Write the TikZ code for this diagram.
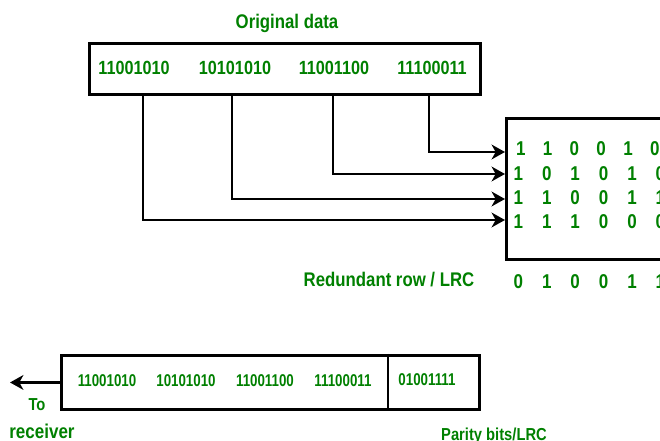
\documentclass[tikz,border=0pt]{standalone}
\usepackage{fontspec}
\setmainfont[FakeStretch=0.85]{Liberation Sans}
\newfontfamily\narrowface[FakeStretch=0.78]{Liberation Sans}
\usetikzlibrary{arrows.meta, positioning}
\definecolor{bitgreen}{RGB}{0,128,0}

\begin{document}
\begin{tikzpicture}[x=0.75pt, y=-0.75pt, >={Stealth[length=10pt, width=11pt, inset=3pt]}]
    \tikzstyle{frame} = [draw, line width=2.2pt, inner sep=0pt]
    \tikzstyle{link} = [->, line width=2.2pt]
    \tikzstyle{word} = [text=bitgreen, font=\fontsize{14.3}{16}\selectfont\bfseries, inner sep=0pt]
    \tikzstyle{smallword} = [word, font=\narrowface\fontsize{12.8}{14}\selectfont\bfseries]
    \tikzstyle{cell} = [word, font=\fontsize{15}{17}\selectfont\bfseries]
    \tikzstyle{note} = [word, font=\fontsize{14.8}{17}\selectfont\bfseries]

    \useasboundingbox (0,0) rectangle (660,441);
    \clip (0,0) rectangle (660,441);

    % sender side: the four data words
    \node[note] (title) at (287,23) {Original data};
    \node[frame, anchor=north west, minimum width=293pt, minimum height=38pt] (data) at (88,42) {};
    \node[word] (d1) at (134,68) {11001010};
    \node[word] (d2) at (235,68) {10101010};
    \node[word] (d3) at (334,68) {11001100};
    \node[word] (d4) at (432,68) {11100011};

    % words stacked as rows
    \node[frame, anchor=north west, minimum width=200pt, minimum height=106pt] (mat) at (505,117) {};
    \coordinate (in1) at (mat.west |- 0,152);
    \coordinate (in2) at (mat.west |- 0,174);
    \coordinate (in3) at (mat.west |- 0,199);
    \coordinate (in4) at (mat.west |- 0,220);

    \foreach \b [count=\i] in {1,1,0,0,1,0}
        \node[cell] (ra\i) at (494+26.8*\i,149) {\b};
    \foreach \b [count=\i] in {1,0,1,0,1,0}
        \node[cell] (rb\i) at (490+28.4*\i,174) {\b};
    \foreach \b [count=\i] in {1,1,0,0,1,1}
        \node[cell] (rc\i) at (490+28.4*\i,198) {\b};
    \foreach \b [count=\i] in {1,1,1,0,0,0}
        \node[cell] (rd\i) at (490+28.4*\i,222) {\b};
    \foreach \b [count=\i] in {0,1,0,0,1,1}
        \node[cell] (lrc\i) at (490+28.4*\i,282) {\b};
    \node[note] (redund) at (389,280) {Redundant row / LRC};

    \coordinate (t1) at (143,0);
    \coordinate (t2) at (232,0);
    \coordinate (t3) at (333,0);
    \coordinate (t4) at (429,0);
    \draw[link] (t1 |- data.south) |- (in4);
    \draw[link] (t2 |- data.south) |- (in3);
    \draw[link] (t3 |- data.south) |- (in2);
    \draw[link] (t4 |- data.south) |- (in1);

    % frame that goes out
    \node[frame, anchor=north west, minimum width=313.5pt, minimum height=40.5pt] (sent) at (60,354) {};
    \coordinate (cut) at (388,0);
    \draw[frame] (cut |- sent.north) -- (cut |- sent.south);
    \node[smallword] (s1) at (107,381) {11001010};
    \node[smallword] (s2) at (186,381) {10101010};
    \node[smallword] (s3) at (265,381) {11001100};
    \node[smallword] (s4) at (343,381) {11100011};
    \node[smallword] (par) at (427,380) {01001111};

    \coordinate[left=37.5pt of sent.west] (rx);
    \draw[link] (sent.west) -- (rx);
    \node[word, font=\fontsize{13}{15}\selectfont\bfseries] (to) at (37,405) {To};
    \node[word, font=\fontsize{15}{17}\selectfont\bfseries] (recv) at (42,431) {receiver};
    \node[word, font=\fontsize{13}{15}\selectfont\bfseries] (pbits) at (494,436) {Parity bits/LRC};
\end{tikzpicture}
\end{document}
